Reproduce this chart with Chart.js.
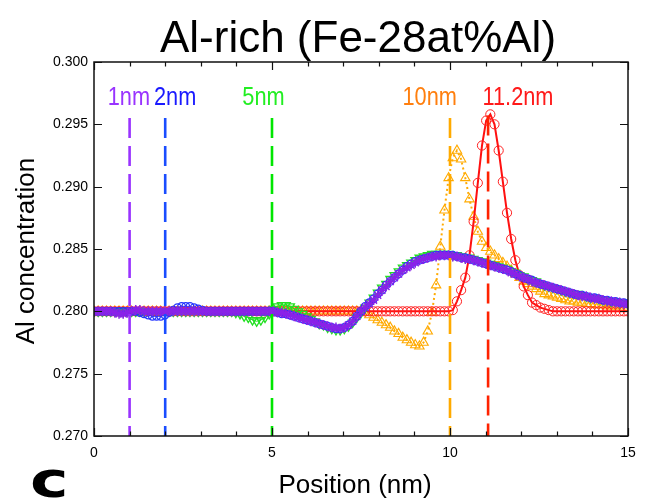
<!DOCTYPE html>
<html><head><meta charset="utf-8">
<script src="https://cdn.jsdelivr.net/npm/chart.js@4.4.0/dist/chart.umd.min.js"></script>
<style>html,body{margin:0;padding:0;background:#fff;}#wrap{width:656px;height:504px;position:relative;}</style>
</head><body><div id="wrap"><canvas id="c" width="656" height="504"></canvas></div>
<script>
// ---- data (Al concentration profiles, uniform grid 0..15 nm, 129 points) ----
const gridStep = 15 / 128;
const conc1nm = [
.2800,.2800,.2800,.2800,.2800,.2799,.2798,.2798,.2799,.2800,
.2801,.2801,.2800,.2800,.2800,.2800,.2800,.2800,.2800,.2800,
.2800,.2800,.2800,.2800,.2800,.2800,.2800,.2800,.2800,.2800,
.2800,.2800,.2800,.2800,.2800,.2800,.2800,.2800,.2800,.2800,
.2800,.2800,.2800,.2800,.2799,.2799,.2798,.2797,.2796,.2795,
.2794,.2793,.2792,.2791,.2790,.2789,.2788,.2787,.2787,.2786,
.2787,.2789,.2792,.2796,.2800,.2803,.2806,.2809,.2813,.2817,
.2820,.2824,.2827,.2830,.2833,.2835,.2837,.2839,.2841,.2842,
.2843,.2844,.2844,.2845,.2845,.2845,.2844,.2844,.2843,.2842,
.2842,.2841,.2840,.2839,.2838,.2837,.2836,.2835,.2834,.2833,
.2831,.2830,.2828,.2827,.2826,.2824,.2823,.2822,.2821,.2820,
.2819,.2818,.2817,.2816,.2815,.2814,.2813,.2812,.2812,.2811,
.2810,.2810,.2809,.2808,.2808,.2807,.2807,.2806,.2806];
const conc2nm = [
.2800,.2800,.2800,.2800,.2800,.2800,.2800,.2800,.2800,.2800,
.2800,.2799,.2798,.2797,.2796,.2796,.2796,.2797,.2799,.2801,
.2803,.2804,.2804,.2804,.2803,.2802,.2801,.2800,.2800,.2800,
.2800,.2800,.2800,.2800,.2800,.2800,.2800,.2800,.2800,.2800,
.2800,.2800,.2800,.2800,.2799,.2798,.2798,.2797,.2796,.2795,
.2794,.2793,.2792,.2791,.2790,.2789,.2788,.2787,.2786,.2786,
.2787,.2789,.2792,.2796,.2800,.2804,.2807,.2810,.2814,.2817,
.2821,.2824,.2827,.2830,.2833,.2836,.2838,.2840,.2841,.2842,
.2843,.2844,.2845,.2845,.2845,.2845,.2845,.2844,.2843,.2843,
.2842,.2841,.2840,.2839,.2838,.2837,.2836,.2835,.2834,.2833,
.2832,.2830,.2829,.2827,.2826,.2825,.2823,.2822,.2821,.2820,
.2819,.2818,.2817,.2816,.2815,.2814,.2813,.2813,.2812,.2811,
.2811,.2810,.2809,.2809,.2808,.2808,.2807,.2807,.2806];
const conc5nm = [
.2800,.2800,.2800,.2800,.2800,.2800,.2800,.2800,.2800,.2800,
.2800,.2800,.2800,.2800,.2800,.2800,.2800,.2800,.2800,.2800,
.2800,.2800,.2800,.2800,.2800,.2800,.2800,.2800,.2800,.2800,
.2800,.2800,.2800,.2800,.2799,.2798,.2796,.2795,.2793,.2792,
.2793,.2795,.2798,.2802,.2804,.2805,.2805,.2804,.2802,.2800,
.2798,.2796,.2794,.2792,.2790,.2789,.2787,.2786,.2785,.2785,
.2786,.2788,.2791,.2795,.2799,.2803,.2807,.2811,.2815,.2819,
.2822,.2826,.2829,.2832,.2835,.2837,.2839,.2841,.2843,.2844,
.2845,.2846,.2846,.2846,.2846,.2846,.2845,.2845,.2844,.2843,
.2843,.2842,.2841,.2840,.2839,.2838,.2837,.2836,.2835,.2834,
.2832,.2831,.2829,.2828,.2826,.2825,.2824,.2822,.2821,.2820,
.2819,.2818,.2817,.2816,.2815,.2814,.2814,.2813,.2812,.2811,
.2811,.2810,.2809,.2809,.2808,.2808,.2807,.2807,.2806];
const conc10nm = [
.2800,.2800,.2800,.2800,.2800,.2800,.2800,.2800,.2800,.2800,
.2800,.2800,.2800,.2800,.2800,.2800,.2800,.2800,.2800,.2800,
.2800,.2800,.2800,.2800,.2800,.2800,.2800,.2800,.2800,.2800,
.2800,.2800,.2800,.2800,.2800,.2800,.2800,.2800,.2800,.2800,
.2800,.2800,.2800,.2800,.2800,.2800,.2800,.2800,.2800,.2800,
.2800,.2800,.2800,.2800,.2800,.2800,.2800,.2800,.2800,.2800,
.2800,.2800,.2800,.2800,.2800,.2799,.2797,.2795,.2793,.2791,
.2789,.2787,.2784,.2782,.2779,.2777,.2775,.2773,.2772,.2775,
.2784,.2799,.2821,.2852,.2881,.2907,.2923,.2929,.2922,.2907,
.2890,.2876,.2864,.2856,.2851,.2848,.2845,.2842,.2839,.2836,
.2833,.2830,.2827,.2824,.2822,.2820,.2818,.2816,.2814,.2813,
.2812,.2811,.2810,.2809,.2808,.2808,.2807,.2807,.2806,.2806,
.2805,.2805,.2805,.2804,.2804,.2804,.2804,.2803,.2803];
const conc11nm = [
.2800,.2800,.2800,.2800,.2800,.2800,.2800,.2800,.2800,.2800,
.2800,.2800,.2800,.2800,.2800,.2800,.2800,.2800,.2800,.2800,
.2800,.2800,.2800,.2800,.2800,.2800,.2800,.2800,.2800,.2800,
.2800,.2800,.2800,.2800,.2800,.2800,.2800,.2800,.2800,.2800,
.2800,.2800,.2800,.2800,.2800,.2800,.2800,.2800,.2800,.2800,
.2800,.2800,.2800,.2800,.2800,.2800,.2800,.2800,.2800,.2800,
.2800,.2800,.2800,.2800,.2800,.2800,.2800,.2800,.2800,.2800,
.2800,.2800,.2800,.2800,.2800,.2800,.2800,.2800,.2800,.2800,
.2800,.2800,.2800,.2800,.2800,.2800,.2801,.2808,.2817,.2827,
.2845,.2872,.2903,.2933,.2953,.2958,.2950,.2929,.2904,.2879,
.2858,.2841,.2829,.2820,.2813,.2807,.2805,.2803,.2802,.2801,
.2800,.2800,.2800,.2800,.2800,.2800,.2800,.2800,.2800,.2800,
.2800,.2800,.2800,.2800,.2800,.2800,.2800,.2800,.2800];

// vertical marker lines
const markerNames = ['1nm', '2nm', '5nm', '10nm', '11.2nm'];
const markerX = [1, 2, 5, 10, 11.07];
const markerTop = [0.2955, 0.2955, 0.2955, 0.2955, 0.2957];
const markerLabelX = [0.98, 2.28, 4.76, 9.43, 11.91];
const markerLabelY = 0.29655;
const markerLineColors = ['#9933ff', '#1a4dff', '#00e600', '#ffaa00', '#ff2200'];
const markerTextColors = ['#9933ff', '#1a1aff', '#22ee22', '#ff7f0e', '#ff1a1a'];

const yTickValues = [0.270, 0.275, 0.280, 0.285, 0.290, 0.295, 0.300];
const xTickValues = [0,1,2,3,4,5,6,7,8,9,10,11,12,13,14,15];
const titleText = 'Al-rich (Fe-28at%Al)';
const xTitle = 'Position (nm)';
const yTitle = 'Al concentration';
const panelLetter = 'c';

const pts = arr => arr.map((v, i) => ({x: i * gridStep, y: v}));
const FONT = '"Liberation Sans", Arial, Helvetica, sans-serif';

const seriesDatasets = [
  {label:'1nm', data: pts(conc1nm), borderColor:'#8a2be2', pointBorderColor:'#8a22e8', backgroundColor:'rgba(0,0,0,0)',
   pointStyle:'star', pointRadius:5, pointBorderWidth:1.5, borderWidth:1, showLine:true},
  {label:'2nm', data: pts(conc2nm), borderColor:'#2233ff', pointBorderColor:'#2233ff', backgroundColor:'rgba(0,0,0,0)',
   pointStyle:'circle', pointRadius:3.8, pointBorderWidth:1.3, borderWidth:1, showLine:true},
  {label:'5nm', data: pts(conc5nm), borderColor:'#22dd22', pointBorderColor:'#22e022', backgroundColor:'rgba(0,0,0,0)',
   pointStyle:'triangle', pointRotation:180, pointRadius:5, pointBorderWidth:1.3, borderWidth:1, showLine:true},
  {label:'11.2nm', data: pts(conc11nm), borderColor:'#ff1010', pointBorderColor:'#ff2020', backgroundColor:'rgba(0,0,0,0)',
   pointStyle:'circle', pointRadius:4.6, pointBorderWidth:1, borderWidth:2, showLine:true},
  {label:'10nm', data: pts(conc10nm), borderColor:'#ffaa00', pointBorderColor:'#ffaa00', backgroundColor:'rgba(0,0,0,0)',
   pointStyle:'triangle', pointRadius:5.4, pointBorderWidth:1.1, borderWidth:2, borderDash:[2,3], showLine:true},
];
const lineDatasets = markerX.map((mx, i) => ({
  label: markerNames[i] + ' line',
  data: [{x: mx, y: markerTop[i]}, {x: mx, y: 0.270}],
  borderColor: markerLineColors[i], borderWidth: 2.6, borderDash: [20, 8],
  pointRadius: 0, showLine: true, backgroundColor:'rgba(0,0,0,0)'
}));

const deco = {
  id: 'deco',
  afterDraw(chart) {
    const ctx = chart.ctx, a = chart.chartArea;
    const xs = chart.scales.x, ys = chart.scales.y;
    ctx.save();
    ctx.strokeStyle = '#111'; ctx.lineWidth = 1.5;
    ctx.strokeRect(a.left, a.top, a.right - a.left, a.bottom - a.top);
    ctx.lineWidth = 1.2; ctx.beginPath();
    xTickValues.forEach(v => {
      const p = Math.round(xs.getPixelForValue(v)) + 0.5;
      const len = v % 5 === 0 ? 8 : 4.5;
      ctx.moveTo(p, a.bottom); ctx.lineTo(p, a.bottom - len);
      ctx.moveTo(p, a.top); ctx.lineTo(p, a.top + len);
    });
    yTickValues.forEach(v => {
      const p = Math.round(ys.getPixelForValue(v)) + 0.5;
      ctx.moveTo(a.left, p); ctx.lineTo(a.left + 8, p);
      ctx.moveTo(a.right, p); ctx.lineTo(a.right - 8, p);
    });
    ctx.stroke();
    ctx.font = '25px ' + FONT; ctx.textAlign = 'center'; ctx.textBaseline = 'alphabetic';
    markerNames.forEach((t, i) => {
      ctx.save();
      ctx.translate(xs.getPixelForValue(markerLabelX[i]), ys.getPixelForValue(markerLabelY));
      ctx.scale(0.87, 1);
      ctx.fillStyle = markerTextColors[i];
      ctx.fillText(t, 0, 0);
      ctx.restore();
    });
    ctx.fillStyle = '#000';
    ctx.font = '44px ' + FONT; ctx.textAlign = 'center';
    ctx.fillText(titleText, 358, 52);
    ctx.font = '26px ' + FONT;
    ctx.fillText(xTitle, 355, 493);
    ctx.save(); ctx.translate(34, 251); ctx.rotate(-Math.PI / 2);
    ctx.fillText(yTitle, 0, 0); ctx.restore();
    ctx.save(); ctx.translate(30, 497); ctx.scale(1.3, 1);
    ctx.font = 'bold 50px "DejaVu Sans", ' + FONT; ctx.textAlign = 'left';
    ctx.fillText(panelLetter, 0, 0); ctx.restore();
    ctx.restore();
  }
};

new Chart(document.getElementById('c'), {
  type: 'scatter',
  data: { datasets: [...lineDatasets, ...seriesDatasets] },
  options: {
    responsive: false, animation: false, devicePixelRatio: 1,
    layout: { padding: { left: 0, right: 28, top: 62, bottom: 0 } },
    plugins: { legend: { display: false }, tooltip: { enabled: false }, title: { display: false } },
    scales: {
      x: { type: 'linear', min: 0, max: 15,
        ticks: { stepSize: 5, color: '#000', font: { family: FONT, size: 14 }, padding: 9, maxRotation: 0, autoSkip: false },
        grid: { display: false, drawTicks: false }, border: { display: false },
        afterFit(s) { s.height = 68; } },
      y: { type: 'linear', min: 0.27, max: 0.30,
        ticks: { stepSize: 0.005, color: '#000', font: { family: FONT, size: 14 }, padding: 6,
          callback: v => Number(v).toFixed(3) },
        grid: { display: false, drawTicks: false }, border: { display: false },
        afterFit(s) { s.width = 94; } }
    }
  },
  plugins: [deco]
});
</script></body></html>
